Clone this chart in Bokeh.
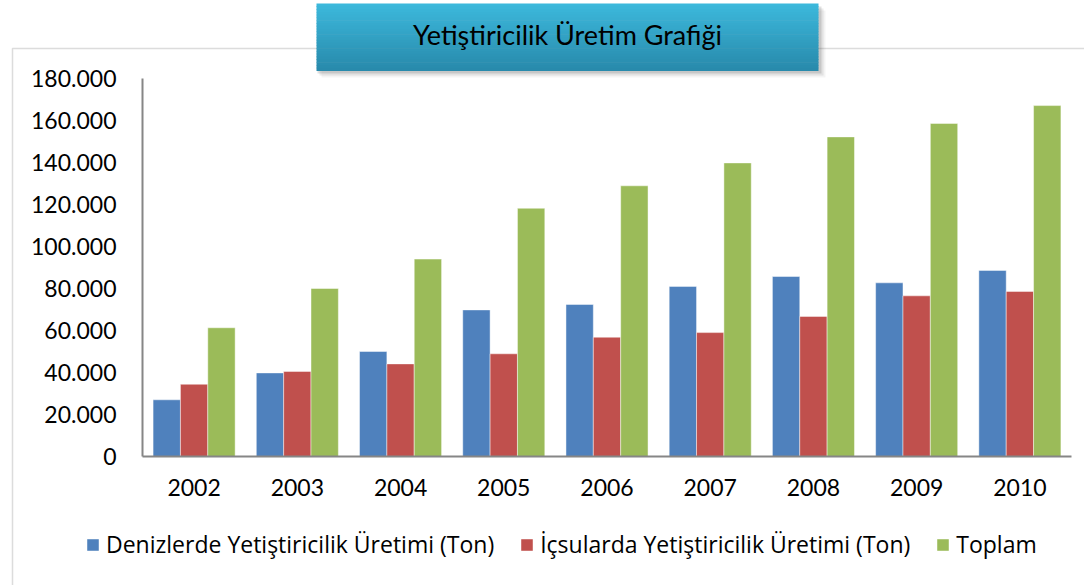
from bokeh.plotting import figure
from bokeh.models import (ColumnDataSource, FixedTicker, CustomJSTickFormatter,
                          Legend, LegendItem, BoxAnnotation, Label, Range1d)
from bokeh.transform import dodge
from bokeh.embed import file_html
from bokeh.resources import INLINE

title_text = "Yetiştiricilik Üretim Grafiği"
years = ["2002", "2003", "2004", "2005", "2006", "2007", "2008", "2009", "2010"]
series_names = ["Denizlerde Yetiştiricilik Üretimi (Ton)",
                "İçsularda Yetiştiricilik Üretimi (Ton)",
                "Toplam"]
deniz = [27000, 39800, 50000, 69800, 72400, 81000, 85700, 82700, 88600]
icsu = [34400, 40500, 44100, 48900, 56800, 59000, 66700, 76500, 78600]
toplam = [61300, 80000, 94000, 118200, 128900, 139800, 152200, 158600, 167100]
y_ticks = [0, 20000, 40000, 60000, 80000, 100000, 120000, 140000, 160000, 180000]

colors = ["#4F81BD", "#C0504D", "#9BBB59"]
FONT = "Lato"
LEG_FONT = "Open Sans"

W, H = 1084, 585
# pixel layout of the plotting area inside the canvas
AX_L, AX_R, AX_T, AX_B = 142, 1071, 78, 456
ncat = len(years)
ymax = y_ticks[-1]
ux = (AX_R - AX_L) / ncat          # px per category
uy = (AX_B - AX_T) / ymax          # px per unit
x_range = Range1d(-AX_L / ux, ncat + (W - AX_R) / ux)
y_range = Range1d(-(H - AX_B) / uy, ymax + AX_T / uy)

src = ColumnDataSource(dict(x=[i + 0.5 for i in range(ncat)], years=years,
                            deniz=deniz, icsu=icsu, toplam=toplam))

p = figure(x_range=x_range, y_range=y_range, width=W, height=H,
           output_backend="svg", toolbar_location=None,
           min_border=0, min_border_left=0, min_border_right=0,
           min_border_top=0, min_border_bottom=0)
p.outline_line_color = None
p.grid.visible = False
p.background_fill_color = "white"
p.border_fill_color = "white"

bw = 0.265
renderers = []
for i, (col, c) in enumerate(zip(["deniz", "icsu", "toplam"], colors)):
    r = p.vbar(x=dodge("x", (i - 1) * bw), top=col, width=bw,
               source=src, fill_color=c, line_color="white", line_alpha=0.45, line_width=1)
    renderers.append(r)

# axes (real axes, fixed to the data origin)
p.yaxis.ticker = FixedTicker(ticks=y_ticks)
p.yaxis.formatter = CustomJSTickFormatter(code="""
    return tick.toFixed(0).replace(/\\B(?=(\\d{3})+(?!\\d))/g, ".");
""")
p.xaxis.ticker = FixedTicker(ticks=[i + 0.5 for i in range(ncat)])
p.xaxis.formatter = CustomJSTickFormatter(args=dict(labels=years), code="""
    return labels[Math.round(tick - 0.5)];
""")
p.yaxis.fixed_location = 0
p.xaxis.fixed_location = 0
p.yaxis.bounds = (0, ymax)
p.xaxis.bounds = (0, ncat)
for ax in (p.xaxis[0], p.yaxis[0]):
    ax.axis_line_color = "#868686"
    ax.axis_line_width = 2
    ax.major_tick_line_color = None
    ax.minor_tick_line_color = None
    ax.major_tick_out = 0
    ax.major_tick_in = 0
    ax.major_label_text_font = FONT
    ax.major_label_text_font_size = "23px"
    ax.major_label_text_color = "#000000"
p.yaxis.major_label_standoff = 26
p.xaxis.major_label_standoff = 22

# outer chart border
p.add_layout(BoxAnnotation(left=12, right=W + 20, top=48, bottom=H + 20,
                           left_units="canvas", right_units="canvas",
                           top_units="canvas", bottom_units="canvas",
                           fill_alpha=0, line_color="#8C8C8C", line_width=1.5))

# legend
legend = Legend(items=[LegendItem(label=n, renderers=[r]) for n, r in zip(series_names, renderers)],
                orientation="horizontal", location=(85, 25),
                glyph_width=15, glyph_height=15, label_standoff=6, spacing=25,
                padding=0, margin=0, border_line_color=None, background_fill_alpha=0,
                label_text_font=LEG_FONT, label_text_font_size="23px", label_text_color="#000000")
p.add_layout(legend, "center")

# title box: shadow
bl, br, bt, bb = 316, 818, 3, 70
for off, a in [(7, 0.06), (5, 0.10), (3, 0.16)]:
    p.add_layout(BoxAnnotation(left=bl + off - 2, right=br + off, top=bt + off, bottom=bb + off,
                               left_units="canvas", right_units="canvas",
                               top_units="canvas", bottom_units="canvas",
                               fill_color="#404040", fill_alpha=a, line_color=None))
# title box: vertical gradient
n = 24
top_c = (60, 184, 219)
bot_c = (40, 138, 172)
for k in range(n):
    t = k / (n - 1)
    c = tuple(int(round(top_c[j] + (bot_c[j] - top_c[j]) * t)) for j in range(3))
    y0 = bt + (bb - bt) * k / n
    y1 = bt + (bb - bt) * (k + 1) / n + 0.6
    p.add_layout(BoxAnnotation(left=bl, right=br, top=y0, bottom=y1,
                               left_units="canvas", right_units="canvas",
                               top_units="canvas", bottom_units="canvas",
                               fill_color="#%02x%02x%02x" % c, fill_alpha=1, line_color=None))
p.add_layout(Label(x=(bl + br) / 2, y=34, x_units="canvas", y_units="canvas", text=title_text,
                   text_align="center", text_baseline="middle", text_font=FONT,
                   text_font_size="27px", text_color="#000000"))

open("out.html", "w").write(file_html(p, INLINE))
